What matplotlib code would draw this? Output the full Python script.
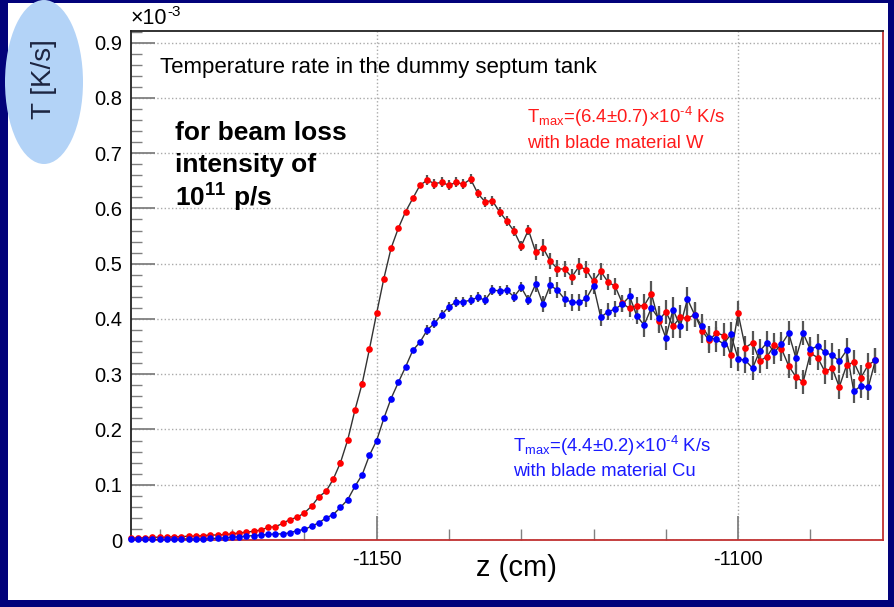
import numpy as np
import matplotlib.pyplot as plt
from matplotlib.patches import Ellipse, Rectangle
from matplotlib.ticker import MultipleLocator, FixedLocator

plt.rcParams['font.family'] = ['Liberation Sans', 'DejaVu Sans']
plt.rcParams['axes.unicode_minus'] = False

# temperature rate in units of 1e-3 K/s, one bin per cm from z = -1184
z_start = -1184
rate_w = [0.003, 0.004, 0.004, 0.005, 0.005, 0.005, 0.006, 0.006, 0.007, 0.007,
          0.008, 0.009, 0.009, 0.010, 0.011, 0.013, 0.014, 0.016, 0.018, 0.023,
          0.024, 0.030, 0.037, 0.041, 0.049, 0.061, 0.078, 0.088, 0.110, 0.140,
          0.181, 0.235, 0.283, 0.345, 0.410, 0.473, 0.528, 0.564, 0.594, 0.618,
          0.642, 0.651, 0.645, 0.647, 0.642, 0.647, 0.644, 0.653, 0.627, 0.612,
          0.614, 0.594, 0.577, 0.559, 0.532, 0.561, 0.521, 0.529, 0.505, 0.491,
          0.490, 0.476, 0.495, 0.489, 0.468, 0.486, 0.467, 0.459, 0.428, 0.419,
          0.424, 0.424, 0.446, 0.397, 0.413, 0.387, 0.403, 0.401, 0.408, 0.379,
          0.361, 0.375, 0.370, 0.334, 0.410, 0.348, 0.357, 0.324, 0.332, 0.352,
          0.346, 0.315, 0.295, 0.286, 0.338, 0.330, 0.305, 0.311, 0.277, 0.316,
          0.322, 0.294, 0.317, 0.325]
rate_cu = [0.001, 0.001, 0.001, 0.001, 0.001, 0.001, 0.002, 0.002, 0.002, 0.002,
           0.002, 0.003, 0.003, 0.004, 0.005, 0.006, 0.007, 0.008, 0.009, 0.010,
           0.011, 0.011, 0.013, 0.017, 0.019, 0.025, 0.031, 0.040, 0.046, 0.059,
           0.073, 0.097, 0.118, 0.153, 0.180, 0.220, 0.256, 0.285, 0.313, 0.343,
           0.358, 0.380, 0.392, 0.408, 0.422, 0.431, 0.431, 0.434, 0.439, 0.434,
           0.452, 0.451, 0.452, 0.440, 0.457, 0.434, 0.463, 0.427, 0.461, 0.452,
           0.436, 0.430, 0.430, 0.437, 0.460, 0.403, 0.413, 0.418, 0.427, 0.441,
           0.405, 0.389, 0.420, 0.401, 0.366, 0.417, 0.387, 0.436, 0.407, 0.387,
           0.366, 0.363, 0.355, 0.372, 0.328, 0.325, 0.311, 0.342, 0.357, 0.340,
           0.354, 0.374, 0.329, 0.374, 0.345, 0.351, 0.340, 0.334, 0.324, 0.343,
           0.269, 0.279, 0.276, 0.326]
# error bars (same units), estimated by region
err_w = [0.001]*26 + [0.004]*15 + [0.009]*15 + [0.015]*15 + [0.022]*33
err_cu = [0.001]*26 + [0.004]*15 + [0.009]*15 + [0.015]*15 + [0.022]*33

z = np.arange(len(rate_w)) + z_start

W, H = 894, 607
fig = plt.figure(figsize=(W/100, H/100), dpi=100)
fig.patch.set_facecolor('#02027a')
fig.patches.append(Rectangle((8/W, 1 - 600/H), 880/W, 597/H, transform=fig.transFigure,
                             facecolor='white', edgecolor='none', zorder=-2))
fig.patches.append(Ellipse((44/W, 1 - 82/H), 78/W, 164/H, transform=fig.transFigure,
                           facecolor='#b3d3f7', edgecolor='none', zorder=-1))
fig.text(44/W, 1 - 79/H, 'T [K/s]', rotation=90, ha='center', va='center',
         fontsize=20, color='#1c2440')

ax = fig.add_axes([130.8/W, 1 - 540/H, (882.7-130.8)/W, (540-31)/H])
ax.set_zorder(2)
ax.set_xlim(-1184, -1080)
ax.set_ylim(0, 0.921)

ax.errorbar(z, rate_w, yerr=err_w, fmt='none', ecolor='#555555', elinewidth=1.6, zorder=2)
ax.errorbar(z, rate_cu, yerr=err_cu, fmt='none', ecolor='#555555', elinewidth=1.6, zorder=2)
ax.plot(z, rate_w, '-', color='#333333', lw=1.0, zorder=3)
ax.plot(z, rate_cu, '-', color='#333333', lw=1.0, zorder=3)
ax.plot(z, rate_w, 'o', color='#ff0000', ms=4.8, mec='none', zorder=4, clip_on=False)
ax.plot(z, rate_cu, 'o', color='#0000ff', ms=4.8, mec='none', zorder=4, clip_on=False)

ax.set_yticks(np.arange(0, 0.95, 0.1))
ax.yaxis.set_minor_locator(MultipleLocator(0.02))
ax.set_yticklabels(['0'] + ['%.1f' % v for v in np.arange(0.1, 0.95, 0.1)])
ax.xaxis.set_major_locator(FixedLocator([-1150, -1100]))
ax.xaxis.set_minor_locator(FixedLocator([-1180, -1170, -1160, -1140, -1130, -1120, -1110, -1090]))
ax.set_xticklabels(['-1150', '-1100'])
ax.tick_params(which='both', direction='in', colors='#808080', labelcolor='black',
               labelsize=14.5, top=False, right=False)
ax.tick_params(which='major', length=17, width=1.3)
ax.tick_params(which='minor', length=8, width=1.0)
ax.tick_params(axis='y', pad=6)
ax.tick_params(axis='x', pad=7)
ax.grid(False, which='minor')
ax.grid(True, which='major', color='#aaaaaa', ls=':', lw=1.0)

for s in ['left', 'top']:
    ax.spines[s].set_color('#222222')
for s in ['right', 'bottom']:
    ax.spines[s].set_color('#c03030')
for s in ax.spines.values():
    s.set_linewidth(1.3)

fig.text(516/W, 1 - 568/H, 'z (cm)', ha='center', va='center', fontsize=21)
fig.text(131/W, 1 - 19/H, '×10', ha='left', va='center', fontsize=15.5)
fig.text(167/W, 1 - 12/H, '-3', ha='left', va='center', fontsize=11)
fig.text(160/W, 1 - 67/H, 'Temperature rate in the dummy septum tank', ha='left',
         va='center', fontsize=16)
fig.text(175/W, 1 - 133/H, 'for beam loss', fontweight='bold', fontsize=19, va='center')
fig.text(175/W, 1 - 165/H, 'intensity of', fontweight='bold', fontsize=19, va='center')
fig.text(175/W, 1 - 197/H, '10$^{\\mathregular{11}}$ p/s', fontweight='bold', fontsize=19,
         va='center')
fig.text(527/W, 1 - 117/H, 'T$_{\\mathregular{max}}$=(6.4±0.7)×10$^{\\mathregular{‐4}}$ K/s',
         color='#ff1a1a', fontsize=13.3, va='center')
fig.text(527/W, 1 - 143/H, 'with blade material W', color='#ff1a1a', fontsize=13.3,
         va='center')
fig.text(513/W, 1 - 446/H, 'T$_{\\mathregular{max}}$=(4.4±0.2)×10$^{\\mathregular{‐4}}$ K/s',
         color='#1a1aff', fontsize=13.3, va='center')
fig.text(513/W, 1 - 471/H, 'with blade material Cu', color='#1a1aff', fontsize=13.3,
         va='center')

plt.savefig('out.png', dpi=100, facecolor=fig.get_facecolor())
